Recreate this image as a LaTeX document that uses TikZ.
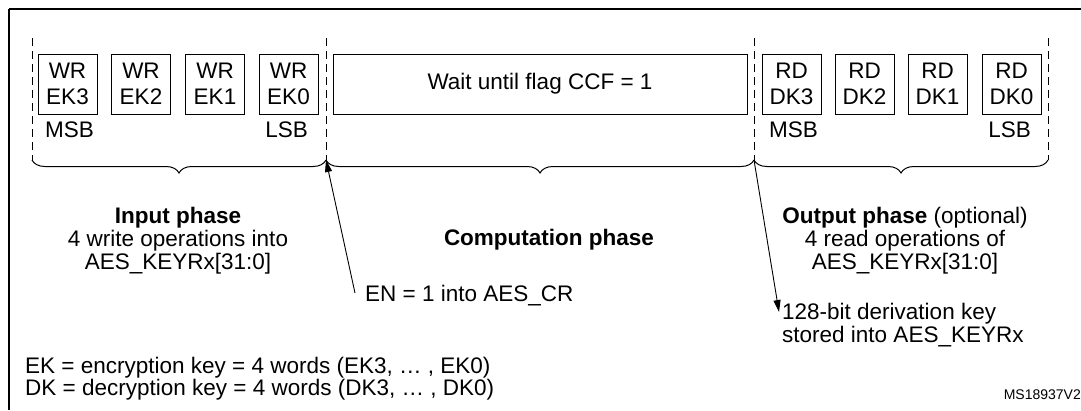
\documentclass[tikz,border=0pt]{standalone}
\usepackage{fontspec}
\setmainfont{Liberation Sans}
\usetikzlibrary{decorations.pathreplacing,arrows.meta}
\begin{document}
\begin{tikzpicture}[x=1pt,y=-1pt,
  box/.style={draw,line width=1pt,minimum width=59pt,minimum height=60pt,align=center,inner sep=0pt,font=\fontsize{22.5}{26}\selectfont},
  txt/.style={font=\fontsize{22.5}{23}\selectfont,inner sep=0pt},
  dsh/.style={dashed,dash pattern=on 8pt off 5pt,line width=0.8pt},
  brc/.style={decorate,decoration={brace,mirror,amplitude=13pt},line width=1pt},
  arr/.style={-{Triangle[length=12pt,width=7pt]},line width=0.9pt}]
\useasboundingbox (0,0) rectangle (1081,410);
\draw[line width=1.5pt] (9,9) -- (1081,9) (9,9) -- (9,410);
\foreach \x in {32,326,754,1048} \draw[dsh] (\x,38) -- (\x,160);
\node[box] (w3) at (67.5,84) {WR\\EK3};
\node[box] (w2) at (141,84) {WR\\EK2};
\node[box] (w1) at (215,84) {WR\\EK1};
\node[box] (w0) at (288.5,84) {WR\\EK0};
\node[box,minimum width=414pt] (wait) at (540,84) {Wait until flag CCF = 1};
\node[box] (r3) at (791.5,84) {RD\\DK3};
\node[box] (r2) at (864.5,84) {RD\\DK2};
\node[box] (r1) at (937.5,84) {RD\\DK1};
\node[box] (r0) at (1011.5,84) {RD\\DK0};
\node[txt,anchor=west] (m1) at (45,130) {MSB};
\node[txt,anchor=east] (l1) at (308,130) {LSB};
\node[txt,anchor=west] (m2) at (769,130) {MSB};
\node[txt,anchor=east] (l2) at (1031,130) {LSB};
\coordinate (b0) at (32,160); \coordinate (b1) at (326,160);
\coordinate (b2) at (754,160); \coordinate (b3) at (1048,160);
\draw[brc] (b0) -- (b1);
\draw[brc] (b1) -- (b2);
\draw[brc] (b2) -- (b3);
\node[txt,align=center,anchor=north] (ip) at (178,207) {\textbf{Input phase}\\4 write operations into\\AES\_KEYRx[31:0]};
\node[txt,anchor=center] (cp) at (549,240) {\textbf{Computation phase}};
\node[txt,align=center,anchor=north] (op) at (905,207) {\textbf{Output phase} (optional)\\4 read operations of\\AES\_KEYRx[31:0]};
\node[txt,anchor=west] (en) at (365,296) {EN = 1 into AES\_CR};
\draw[arr] (355,293) -- (b1);
\node[txt,align=left,anchor=north west] (dk) at (782,303) {128-bit derivation key\\stored into AES\_KEYRx};
\draw[arr] (b2) -- (779,312);
\node[txt,align=left,anchor=north west,font=\fontsize{22.5}{22}\selectfont] (lg) at (25,357) {EK = encryption key = 4 words (EK3, … , EK0)\\DK = decryption key = 4 words (DK3, … , DK0)};
\node[anchor=east,inner sep=0pt,font=\fontsize{14}{16}\selectfont] (ms) at (1081,395) {MS18937V2};
\end{tikzpicture}
\end{document}
